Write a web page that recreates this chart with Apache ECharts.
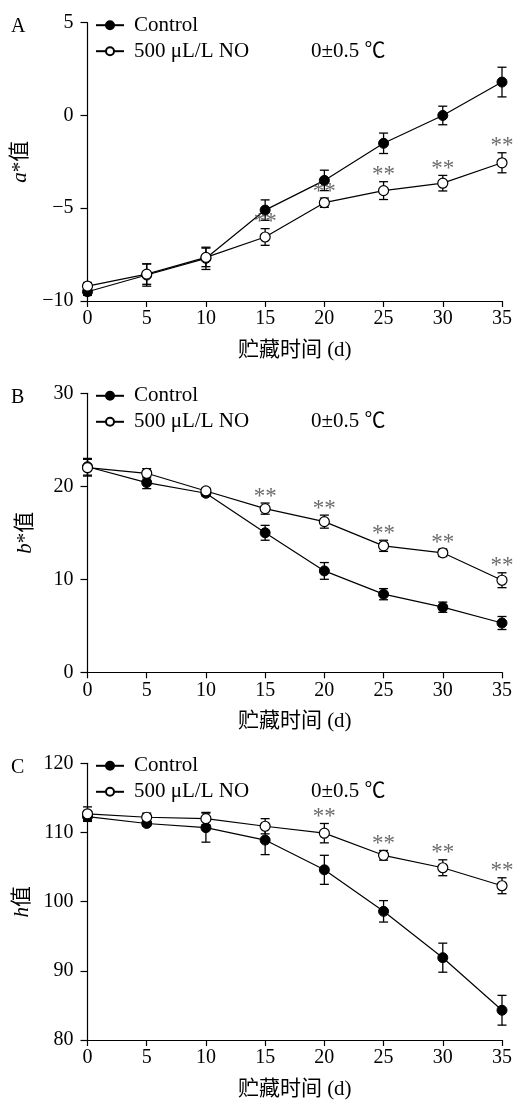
<!DOCTYPE html>
<html>
<head>
<meta charset="utf-8">
<script src="https://cdn.jsdelivr.net/npm/echarts@6/dist/echarts.min.js"></script>
<style>
  html, body { margin: 0; padding: 0; background: #fff; }
  #chart { width: 515px; height: 1101px; }
</style>
</head>
<body>
<div id="chart"></div>
<script>
// storage days
const days = [0, 5, 10, 15, 20, 25, 30, 35];

// panel A: a* value
const aControl = [-9.5, -8.6, -7.7, -5.1, -3.5, -1.5, 0.0, 1.8];
const aControlErr = [0.2, 0.6, 0.6, 0.55, 0.55, 0.55, 0.5, 0.8];
const aNO = [-9.2, -8.55, -7.65, -6.55, -4.7, -4.05, -3.65, -2.55];
const aNOErr = [0.2, 0.55, 0.5, 0.45, 0.25, 0.48, 0.42, 0.54];
const aStars = [3, 4, 5, 6, 7];

// panel B: b* value
const bControl = [22.1, 20.4, 19.25, 15.0, 10.9, 8.4, 7.0, 5.3];
const bControlErr = [0.9, 0.65, 0.3, 0.8, 0.9, 0.6, 0.55, 0.7];
const bNO = [22.0, 21.4, 19.5, 17.6, 16.2, 13.6, 12.85, 9.9];
const bNOErr = [0.9, 0.5, 0.3, 0.6, 0.7, 0.6, 0.4, 0.8];
const bStars = [3, 4, 5, 6, 7];

// panel C: h value
const cControl = [112.3, 111.3, 110.7, 108.9, 104.6, 98.6, 91.9, 84.3];
const cControlErr = [0.7, 0.35, 2.1, 2.1, 2.1, 1.55, 2.1, 2.15];
const cNO = [112.7, 112.2, 112.0, 110.9, 109.9, 106.7, 104.9, 102.3];
const cNOErr = [1.0, 0.6, 0.9, 1.1, 1.4, 0.7, 1.15, 1.15];
const cStars = [4, 5, 6, 7];

const FONT = '"Liberation Serif", "Noto Sans CJK SC", serif';
const NAME_C = 'Control';
const NAME_N = '500 μL/L NO';

const panels = [
  { tag: 'A', yName: '{i|a}*值', min: -10, max: 5, interval: 5, top: 22.7, height: 278.3,
    ctl: aControl, ctlErr: aControlErr, no: aNO, noErr: aNOErr, stars: aStars },
  { tag: 'B', yName: '{i|b}*值', min: 0, max: 30, interval: 10, top: 393.3, height: 279,
    ctl: bControl, ctlErr: bControlErr, no: bNO, noErr: bNOErr, stars: bStars },
  { tag: 'C', yName: '{i|h}值', min: 80, max: 120, interval: 10, top: 763.3, height: 279,
    ctl: cControl, ctlErr: cControlErr, no: cNO, noErr: cNOErr, stars: cStars }
];

const chart = echarts.init(document.getElementById('chart'));

function errorBars(idx, vals, errs) {
  return {
    type: 'custom',
    xAxisIndex: idx,
    yAxisIndex: idx,
    silent: true,
    z: 1,
    data: days.map((d, i) => [d, vals[i] - errs[i], vals[i] + errs[i]]),
    renderItem: (params, api) => {
      const lo = api.coord([api.value(0), api.value(1)]);
      const hi = api.coord([api.value(0), api.value(2)]);
      const w = 4.5;
      const st = { stroke: '#000', lineWidth: 1.3 };
      return {
        type: 'group',
        children: [
          { type: 'line', shape: { x1: lo[0], y1: lo[1], x2: hi[0], y2: hi[1] }, style: st },
          { type: 'line', shape: { x1: lo[0] - w, y1: lo[1], x2: lo[0] + w, y2: lo[1] }, style: st },
          { type: 'line', shape: { x1: hi[0] - w, y1: hi[1], x2: hi[0] + w, y2: hi[1] }, style: st }
        ]
      };
    }
  };
}

const minus = v => String(v).replace('-', '\u2212');

const grid = [], xAxis = [], yAxis = [], series = [], legend = [], title = [];

panels.forEach((p, k) => {
  grid.push({ left: 87.5, width: 415.2, top: p.top, height: p.height });
  xAxis.push({
    type: 'value', gridIndex: k, min: 0, max: 35, interval: 5,
    name: '贮藏时间 (d)', nameLocation: 'middle', nameGap: 39,
    nameTextStyle: { fontFamily: FONT, fontSize: 21, color: '#000' },
    axisLine: { onZero: false, lineStyle: { color: '#000', width: 1.2 } },
    axisTick: { show: true, length: 6, lineStyle: { color: '#000', width: 1.2 } },
    axisLabel: { fontFamily: FONT, fontSize: 20, color: '#000', margin: 8 },
    splitLine: { show: false }
  });
  yAxis.push({
    type: 'value', gridIndex: k, min: p.min, max: p.max, interval: p.interval,
    name: p.yName, nameLocation: 'middle', nameRotate: 90, nameGap: 52,
    nameTextStyle: {
      fontFamily: FONT, fontSize: 21, color: '#000',
      rich: { i: { fontFamily: FONT, fontSize: 21, fontStyle: 'italic', color: '#000' } }
    },
    axisLine: { show: true, onZero: false, lineStyle: { color: '#000', width: 1.2 } },
    axisTick: { show: true, length: 7, lineStyle: { color: '#000', width: 1.2 } },
    axisLabel: { fontFamily: FONT, fontSize: 20, color: '#000', margin: 14, formatter: minus },
    splitLine: { show: false }
  });

  series.push(errorBars(k, p.ctl, p.ctlErr));
  series.push(errorBars(k, p.no, p.noErr));
  series.push({
    name: NAME_C, type: 'line', xAxisIndex: k, yAxisIndex: k, z: 3,
    data: days.map((d, i) => [d, p.ctl[i]]),
    symbol: 'circle', symbolSize: 10,
    lineStyle: { color: '#000', width: 1.2 },
    itemStyle: { color: '#000', borderColor: '#000', borderWidth: 1 }
  });
  series.push({
    name: NAME_N, type: 'line', xAxisIndex: k, yAxisIndex: k, z: 4,
    data: days.map((d, i) => [d, p.no[i]]),
    symbol: 'circle', symbolSize: 10,
    lineStyle: { color: '#000', width: 1.2 },
    itemStyle: { color: '#fff', borderColor: '#000', borderWidth: 1.2 }
  });
  series.push({
    type: 'scatter', xAxisIndex: k, yAxisIndex: k, z: 5, silent: true,
    symbolSize: 0,
    data: p.stars.map(i => [days[i], p.no[i] + p.noErr[i]]),
    label: {
      show: true, position: 'top', distance: -5, formatter: '**',
      fontFamily: FONT, fontSize: 23, color: '#444'
    }
  });

  legend.push({
    data: [NAME_C, NAME_N], orient: 'vertical', left: 90, top: p.top - 13,
    itemWidth: 28, itemHeight: 10, itemGap: 5,
    textStyle: { fontFamily: FONT, fontSize: 21, color: '#000', padding: [0, 0, 0, 5] }
  });
  title.push({
    text: p.tag, left: 6, top: p.top - 11,
    textStyle: { fontFamily: FONT, fontSize: 20, fontWeight: 'normal', color: '#000' }
  });
  title.push({
    text: '0±0.5 ℃', left: 306, top: p.top + 13,
    textStyle: { fontFamily: FONT, fontSize: 21, fontWeight: 'normal', color: '#000' }
  });
});

chart.setOption({
  animation: false,
  backgroundColor: '#fff',
  title: title,
  legend: legend,
  grid: grid,
  xAxis: xAxis,
  yAxis: yAxis,
  series: series
});
</script>
</body>
</html>
